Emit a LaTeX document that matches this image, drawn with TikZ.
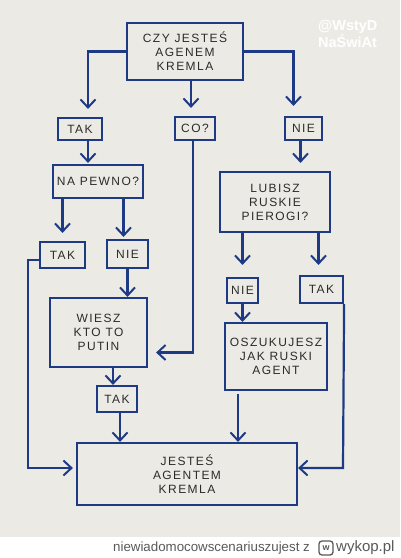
\documentclass[tikz,border=0pt]{standalone}
\usepackage{fontspec}
\setmainfont{Liberation Sans}
\newfontfamily\hand[LetterSpace=12]{Liberation Sans}
\usetikzlibrary{arrows.meta,calc}
\definecolor{ink}{HTML}{1F3A85}
\definecolor{paper}{HTML}{ECEAE4}
\definecolor{txt}{HTML}{2B2B2B}
\begin{document}
\begin{tikzpicture}[x=1pt,y=-1pt,
  box/.style={draw=ink,line width=2.2pt,text=txt,font=\hand\fontsize{12}{14}\selectfont,align=center,inner sep=0pt},
  arr/.style={draw=ink,line width=2.2pt,-{Straight Barb[length=8pt,width=15pt,line width=2pt]}}]
\useasboundingbox (0,0) rectangle (400,558);
\fill[paper] (0,0) rectangle (400,537);
\fill[white] (0,537) rectangle (400,558);

\node[text=white,font=\bfseries\fontsize{14.5}{14}\selectfont,align=left,anchor=north west,inner sep=0pt] (wm) at (318,20) {@WstyD\\NaŚwiAt};

\node[box,minimum width=116pt,minimum height=57pt] (top) at (185,51.5) {CZY JESTEŚ\\AGENEM\\KREMLA};
\node[box,minimum width=44pt,minimum height=22pt] (tak1) at (80,129) {TAK};
\node[box,minimum width=40pt,minimum height=23pt] (co) at (195,128.5) {CO?};
\node[box,minimum width=37pt,minimum height=23pt] (nie1) at (303.5,128.5) {NIE};
\node[box,minimum width=90pt,minimum height=33pt] (napewno) at (98,181.5) {NA PEWNO?};
\node[box,minimum width=110pt,minimum height=60pt] (lubisz) at (275,202) {LUBISZ\\RUSKIE\\PIEROGI?};
\node[box,minimum width=45pt,minimum height=26pt] (tak2) at (62.5,255) {TAK};
\node[box,minimum width=41pt,minimum height=28pt] (nie2) at (127.5,254) {NIE};
\node[box,minimum width=31pt,minimum height=25pt] (nie3) at (242.5,290.5) {NIE};
\node[box,minimum width=43pt,minimum height=27pt] (tak3) at (321.5,289.5) {TAK};
\node[box,minimum width=97pt,minimum height=69pt] (wiesz) at (98.5,332.5) {WIESZ\\KTO TO\\PUTIN};
\node[box,minimum width=40pt,minimum height=26pt] (tak4) at (117,399) {TAK};
\node[box,minimum width=102pt,minimum height=67pt] (oszuk) at (276,356.5) {OSZUKUJESZ\\JAK RUSKI\\AGENT};
\node[box,minimum width=220pt,minimum height=62pt] (jestes) at (187,474) {JESTEŚ\\AGENTEM\\KREMLA};

\coordinate (lc) at (28,468);
\coordinate (rc) at (343,468);

\draw[arr,shorten >=8pt] (top.west) -| ($(tak1.north)+(8,0)$);
\draw[arr,shorten >=8pt] ($(co.north |- top.south)+(-4,0)$) -- ($(co.north)+(-4,0)$);
\draw[arr,shorten >=10pt] (top.east) -| ($(nie1.north)+(-10,0)$);
\draw[arr,shorten >=1pt] ($(tak1.south)+(8,0)$) -- ($(tak1.south |- napewno.north)+(8,0)$);
\draw[arr,shorten >=8pt] ($(co.south)+(-2,0)$) |- ($(wiesz.east)+(0,20)$);
\draw[arr,shorten >=8pt] ($(nie1.south)+(-3,0)$) -- ($(nie1.south |- lubisz.north)+(-3,0)$);
\draw[arr,shorten >=8pt] (tak2.north |- napewno.south) -- (tak2.north);
\draw[arr,shorten >=2pt] ($(nie2.north |- napewno.south)+(-4,0)$) -- ($(nie2.north)+(-4,0)$);
\draw[arr,shorten >=3pt] ($(tak2.west)+(0,5)$) -| (lc) -- (lc -| jestes.west);
\draw[arr,shorten >=12pt] (nie3.north |- lubisz.south) -- (nie3.north);
\draw[arr,shorten >=10pt] ($(tak3.north |- lubisz.south)+(-3,0)$) -- ($(tak3.north)+(-3,0)$);
\draw[arr] (nie2.south) -- (nie2.south |- wiesz.north);
\draw[arr] ($(tak4.north |- wiesz.south)+(-4,0)$) -- ($(tak4.north)+(-4,0)$);
\draw[arr] ($(tak4.south)+(3,0)$) -- ($(tak4.south |- jestes.north)+(3,0)$);
\draw[arr] (nie3.south) -- (nie3.south |- oszuk.north);
\draw[arr] ($(oszuk.south)+(-38,3)$) -- ($(oszuk.south |- jestes.north)+(-38,0)$);
\draw[arr] (tak3.south east) -- (rc) -- (rc -| jestes.east);

\node[anchor=west,text=black!65,font=\fontsize{13.3}{13}\selectfont,inner sep=0pt] (user) at (113,548) {niewiadomocowscenariuszujest z};
\node[draw=black!65,rounded corners=3pt,line width=1.3pt,minimum size=14pt,inner sep=0pt,text=black!65,font=\bfseries\fontsize{9}{9}\selectfont] (logo) at (326,548) {w};
\node[anchor=west,text=black!65,font=\fontsize{15}{15}\selectfont,inner sep=0pt] (wyk) at (336,548) {wykop.pl};
\end{tikzpicture}
\end{document}
